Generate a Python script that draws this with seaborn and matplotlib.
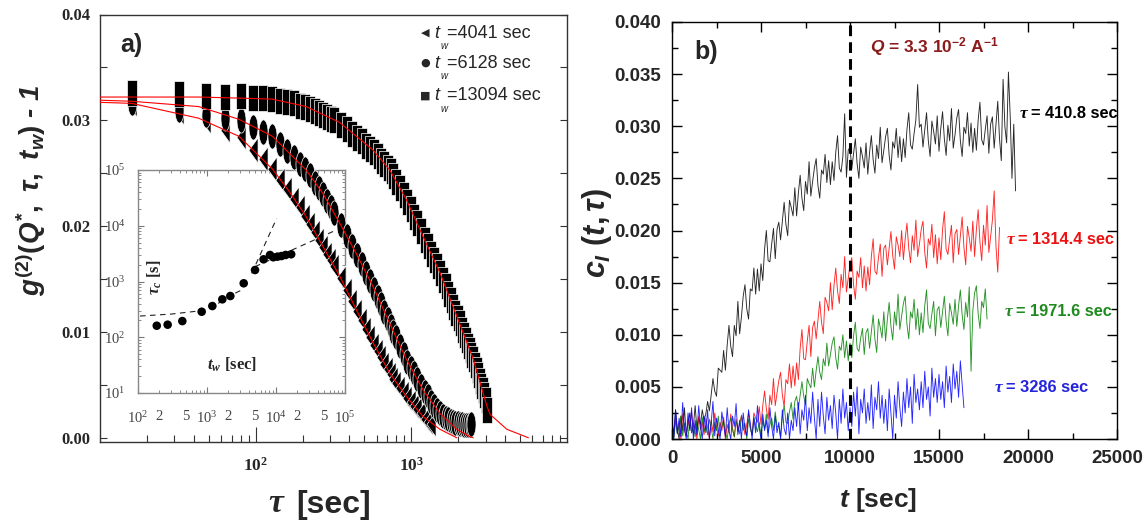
import numpy as np
import pandas as pd
import matplotlib
matplotlib.use('Agg')
from matplotlib import pyplot as plt
from matplotlib.ticker import LogLocator, NullFormatter
import seaborn as sns

# ---------------- panel a) data : g2(Q*, tau, tw) - 1 ----------------
tw_labels = ['4041', '6128', '13094']

lag_times = [16, 32, 48, 64, 80, 96, 112, 128, 144, 160, 176, 192, 208, 224, 240, 256,
             272, 288, 304, 320, 352, 384, 416, 448, 480,
             512, 544, 576, 608, 640, 672, 704, 736, 768, 800, 848, 896, 944, 992, 1040, 1088,
             1152, 1216, 1280, 1344, 1408, 1472, 1536, 1600, 1664, 1728, 1792, 1856, 1920,
             1984, 2048, 2112, 2176, 2240, 2304, 2368, 2432, 2496, 2560, 2624, 2688, 2752,
             2816, 2880, 2944, 3008, 3072]

g2_4041 = [0.0315, 0.0308, 0.0299, 0.0291, 0.0284, 0.0272, 0.0263, 0.0254, 0.0244, 0.0235,
           0.0226, 0.0218, 0.0210, 0.0202, 0.0194, 0.0187, 0.0180, 0.0174, 0.0168, 0.0162,
           0.0151, 0.0140, 0.0129, 0.0120, 0.0111,
           0.0103, 0.0095, 0.0088, 0.0082, 0.0076, 0.0070, 0.0065, 0.0060, 0.0056, 0.0052,
           0.0047, 0.0042, 0.0038, 0.0034, 0.0030, 0.0027,
           0.0023, 0.0018, 0.0015, 0.0013]

g2_6128 = [0.0316, 0.0310, 0.0305, 0.0302, 0.0300, 0.0294, 0.0289, 0.0285, 0.0278, 0.0271,
           0.0265, 0.0259, 0.0254, 0.0248, 0.0241, 0.0236, 0.0230, 0.0224, 0.0218, 0.0212,
           0.0201, 0.0191, 0.0181, 0.0173, 0.0164,
           0.0156, 0.0148, 0.0141, 0.0133, 0.0126, 0.0119, 0.0112, 0.0106, 0.0100, 0.0095,
           0.0087, 0.0079, 0.0072, 0.0066, 0.0061, 0.0056,
           0.0049, 0.0043, 0.0039, 0.0034, 0.0030, 0.0026, 0.0023, 0.0021, 0.0019, 0.0018,
           0.0016, 0.0015, 0.0014, 0.0014, 0.0013, 0.0013, 0.0012, 0.0012, 0.0012, 0.0012,
           0.0013]

g2_13094 = [0.0326, 0.0325, 0.0323, 0.0322, 0.0323, 0.0321, 0.0321, 0.0320, 0.0318, 0.0317,
            0.0316, 0.0314, 0.0313, 0.0311, 0.0309, 0.0307, 0.0305, 0.0303, 0.0301, 0.0300,
            0.0296, 0.0292, 0.0287, 0.0283, 0.0280,
            0.0276, 0.0273, 0.0270, 0.0266, 0.0262, 0.0259, 0.0255, 0.0252, 0.0247, 0.0242,
            0.0236, 0.0229, 0.0223, 0.0216, 0.0209, 0.0203,
            0.0195, 0.0187, 0.0181, 0.0174, 0.0168, 0.0162, 0.0156, 0.0149, 0.0143, 0.0136,
            0.0130, 0.0124, 0.0118, 0.0113, 0.0108, 0.0102, 0.0097, 0.0092, 0.0087, 0.0083,
            0.0078, 0.0074, 0.0069, 0.0064, 0.0059, 0.0054, 0.0049, 0.0045, 0.0040, 0.0036,
            0.0026]

# red fit curves
fit_tau_4041 = [10, 16, 43, 70, 78, 128, 164, 211, 270, 346, 443, 567, 727, 930, 1191, 1527, 1958]
fit_g2_4041 = [0.0317, 0.0316, 0.0302, 0.0288, 0.0285, 0.0254, 0.0233, 0.0209, 0.0181, 0.0153,
               0.0121, 0.0090, 0.0061, 0.0039, 0.0020, 0.0008, 0.0]
fit_tau_6128 = [10, 16, 43, 78, 128, 211, 270, 346, 443, 567, 727, 930, 1191, 1527, 1958, 2380, 2500]
fit_g2_6128 = [0.0319, 0.0318, 0.0313, 0.0301, 0.0285, 0.0253, 0.0231, 0.0203, 0.0174, 0.0143,
               0.0108, 0.0074, 0.0045, 0.0023, 0.0008, 0.0001, 0.0]
fit_tau_13094 = [10, 16, 43, 78, 128, 211, 346, 567, 727, 930, 1191, 1527, 1958, 2506, 3056,
                 3209, 4110, 5650]
fit_g2_13094 = [0.0322, 0.0322, 0.0322, 0.0321, 0.0320, 0.0313, 0.0298, 0.0272, 0.0253, 0.0225,
                0.0190, 0.0156, 0.0115, 0.0074, 0.0030, 0.0022, 0.0008, 0.0]

# inset : tau_c vs t_w
inset_tw = [187, 269, 439, 837, 1195, 1667, 2178, 3404, 4966, 6607, 8180, 9120, 10500, 12000,
            13800, 16600]
inset_tauc = [161, 168, 195, 287, 363, 479, 549, 929, 1607, 2500, 2990, 2720, 2790, 2860,
              2990, 3080]
guide1_tw = [107, 308, 837, 1195, 1667, 2178, 3184]
guide1_tau = [240, 261, 300, 350, 450, 560, 705]
guide2_tw = [4450, 10200]
guide2_tau = [1400, 13500]
guide3_tw = [4970, 85000]
guide3_tau = [1845, 9000]

# ---------------- panel b) data : c_I(t, tau), units of 1e-4, one value per 100 s -------------
t_step = 100
ci_410 = [18, 5, 28, 10, 0, 22, 8, 30, 3, 15, 25, 6, 12, 32, 9, 20, 14, 28, 18, 24,
          36, 27, 42, 58, 46, 41, 68, 66, 64, 85,
          66, 90, 109, 89, 79, 109, 99, 132, 101, 117,
          137, 148, 125, 115, 144, 142, 164, 139, 163, 142,
          168, 152, 182, 200, 171, 170, 187, 202, 173, 201,
          208, 191, 209, 227, 206, 195, 229, 222, 214, 241,
          214, 236, 253, 231, 219, 247, 235, 266, 233, 247,
          260, 269, 243, 231, 258, 254, 273, 246, 267, 244,
          266, 248, 275, 291, 260, 256, 271, 312, 251, 277,
          280, 259, 274, 288, 264, 250, 280, 271, 260, 284,
          254, 275, 291, 268, 255, 282, 269, 299, 265, 277,
          290, 298, 272, 258, 285, 279, 298, 270, 290, 266,
          288, 270, 297, 313, 282, 278, 293, 306, 340, 299,
          302, 280, 296, 313, 286, 271, 305, 295, 283, 310,
          276, 298, 314, 288, 272, 301, 286, 317, 279, 292,
          308, 316, 286, 271, 299, 293, 313, 281, 303, 275,
          298, 277, 306, 323, 287, 282, 297, 310, 274, 302,
          309, 279, 302, 324, 288, 267, 345, 300, 284, 352,
          310, 250, 302, 238]

ci_1314 = [12, 2, 20, 6, 15, 0, 24, 8, 3, 18, 10, 26, 5, 14, 0, 22, 9, 16, 4, 20,
           11, 0, 18, 7, 25, 12, 3, 16, 8, 21, 0, 14, 6, 24, 10, 2, 19, 7, 15, 22,
           15, 4, 14, 25, 11, 4, 25, 20, 16, 31,
           14, 32, 46, 29, 19, 42, 33, 58, 32, 44,
           56, 64, 42, 31, 57, 53, 72, 49, 70, 51,
           73, 57, 87, 105, 77, 76, 94, 109, 79, 107,
           113, 96, 114, 132, 112, 101, 136, 131, 123, 150,
           124, 147, 164, 142, 130, 158, 145, 175, 141, 154,
           167, 174, 148, 134, 161, 155, 174, 145, 166, 142,
           165, 148, 175, 192, 161, 158, 174, 187, 156, 183,
           186, 167, 183, 199, 176, 163, 194, 186, 175, 200,
           172, 192, 207, 183, 169, 195, 181, 210, 175, 187,
           201, 209, 179, 164, 192, 186, 206, 174, 196, 168,
           193, 172, 201, 218, 182, 177, 192, 205, 169, 197,
           201, 177, 195, 213, 184, 167, 204, 193, 180, 209,
           175, 201, 220, 189, 171, 205, 186, 224, 179, 194,
           210, 238, 185, 160, 203]

ci_1972 = [10, 0, 18, 5, 12, 22, 3, 15, 8, 0, 20, 6, 14, 2, 17, 9, 0, 21, 7, 13,
           4, 19, 11, 0, 16, 8, 22, 3, 12, 18, 6, 0, 14, 20, 9, 2, 17, 11, 5, 23,
           8, 15, 0, 19, 10, 4, 21, 13, 7, 16, 2, 18, 10, 24, 6, 14, 20, 8, 26, 12,
           12, 2, 21, 32, 16, 15, 26, 35, 19, 36,
           41, 29, 42, 55, 41, 33, 58, 53, 49, 68,
           50, 66, 79, 64, 57, 77, 70, 92, 70, 81,
           92, 98, 78, 67, 89, 85, 100, 78, 94, 75,
           92, 78, 99, 112, 87, 84, 97, 106, 81, 102,
           106, 87, 103, 119, 96, 83, 115, 107, 97, 122,
           94, 115, 131, 108, 95, 122, 109, 139, 105, 118,
           130, 137, 110, 96, 122, 116, 134, 105, 125, 100,
           121, 102, 128, 143, 111, 106, 120, 132, 99, 124,
           127, 107, 122, 137, 113, 99, 130, 121, 110, 134,
           108, 128, 143, 119, 105, 131, 117, 146, 65, 123,
           140, 147, 120, 106, 132, 126, 144, 115]

ci_3286 = [15, 0, 28, 5, 20, 2, 35, 10, 0, 25, 8, 30, 0, 18, 4, 32, 12, 0, 22, 6,
           28, 0, 15, 36, 3, 20, 9, 0, 26, 14, 2, 30, 8, 0, 22, 12, 34, 4, 18, 0,
           25, 10, 3, 28, 15, 0, 20, 6, 32, 11, 0, 24, 8, 18, 2, 30, 12, 0, 22, 6,
           16, 0, 28, 10, 4, 25, 0, 18, 8, 30,
           12, 35, 5, 28, 18, 42, 8, 30, 15, 45,
           20, 0, 38, 12, 45, 22, 5, 40, 18, 32,
           10, 42, 25, 0, 38, 15, 48, 20, 35, 8,
           30, 12, 45, 22, 50, 5, 38, 25, 48, 15,
           35, 18, 52, 10, 40, 28, 55, 20, 42, 15,
           38, 8, 48, 25, 0, 42, 20, 55, 30, 12,
           45, 25, 58, 30, 50, 15, 62, 35, 48, 28,
           55, 30, 65, 38, 50, 22, 68, 40, 58, 35,
           62, 38, 55, 30, 70, 45, 60, 35, 72, 48,
           65, 40, 75, 52, 30]

tau_names = ['410.8', '1314.4', '1971.6', '3286']
line_colors = ['#000000', '#ff0000', '#008000', '#0000ff']
text_colors = ['#000000', '#ee1111', '#1f8a1f', '#2424dd']

# ---------------- style ----------------
sns.set_style('ticks')
plt.rcParams['font.family'] = ['Liberation Sans', 'DejaVu Sans']
plt.rcParams['mathtext.fontset'] = 'custom'
plt.rcParams['mathtext.rm'] = 'Liberation Sans:bold'
plt.rcParams['mathtext.it'] = 'Liberation Sans:italic:bold'
plt.rcParams['mathtext.bf'] = 'Liberation Sans:bold'
plt.rcParams['mathtext.sf'] = 'Liberation Serif:italic:bold'

W, H = 1148, 521


def fx(x):
    return x / W


def fy(y):
    return 1 - y / H


fig = plt.figure(figsize=(W / 100, H / 100), dpi=100)
ax = fig.add_axes([fx(100), fy(442), (567 - 100) / W, (442 - 14.5) / H])
ax_in = fig.add_axes([fx(138), fy(393), (345 - 138) / W, (393 - 170) / H])
ax2 = fig.add_axes([fx(672), fy(439), (1117 - 672) / W, (439 - 22) / H])
ax.set_zorder(2)
ax_in.set_zorder(1)
ax.patch.set_alpha(0)

# ---------------- panel a) ----------------
ax.set_xscale('log')
w = 0.36
tri_m = [(w, 1), (w, -1), (-w, 0), (w, 1)]
sq_m = [(-w, -1), (w, -1), (w, 1), (-w, 1), (-w, -1)]
ang = np.linspace(0, 2 * np.pi, 41)
circ_m = list(zip(w * np.cos(ang), np.sin(ang)))

for vals, mk, z in [(g2_4041, tri_m, 2), (g2_6128, circ_m, 3), (g2_13094, sq_m, 4)]:
    sns.scatterplot(x=lag_times[:len(vals)], y=vals, ax=ax, marker=mk, s=330, color='black',
                    edgecolor='white', linewidth=0.5, zorder=z)

for ft, fg in [(fit_tau_4041, fit_g2_4041), (fit_tau_6128, fit_g2_6128),
               (fit_tau_13094, fit_g2_13094)]:
    sns.lineplot(x=ft, y=fg, ax=ax, color='red', lw=0.8, estimator=None, sort=False, zorder=6)

ax.set_xlim(10, 1e4)
ax.set_ylim(-0.0004, 0.04)
ax.set_xticks([100, 1000], labels=[r'$\mathdefault{10^{2}}$', r'$\mathdefault{10^{3}}$'],
              fontfamily='Liberation Serif', fontweight='bold', fontsize=12.5)
ax.xaxis.set_minor_locator(LogLocator(base=10, subs=np.arange(2, 10)))
ax.xaxis.set_minor_formatter(NullFormatter())
ax.set_yticks([0, 0.01, 0.02, 0.03, 0.04], labels=['0.00', '0.01', '0.02', '0.03', '0.04'],
              fontfamily='Liberation Serif', fontweight='bold', fontsize=12)
ax.set_yticks([0.005, 0.015, 0.025, 0.035], minor=True)
ax.tick_params(axis='y', which='both', direction='in', left=True, right=True, length=5,
               width=0.8, pad=7, color='#333333')
ax.tick_params(axis='x', which='major', direction='in', bottom=True, top=False, length=11,
               width=0.8, pad=11, color='#333333')
ax.tick_params(axis='x', which='minor', direction='in', bottom=True, top=False, length=5,
               width=0.8, color='#333333')
for sp in ax.spines.values():
    sp.set_color('#333333')
    sp.set_linewidth(1.0)
ax.set_xlabel('')
ax.set_ylabel('')

# inset
ax_in.set_xscale('log')
ax_in.set_yscale('log')
sns.scatterplot(x=inset_tw, y=inset_tauc, ax=ax_in, color='black', s=38, edgecolor='none',
                zorder=3)
for gx, gy in [(guide1_tw, guide1_tau), (guide2_tw, guide2_tau), (guide3_tw, guide3_tau)]:
    ax_in.plot(gx, gy, color='#222222', lw=0.8, ls=(0, (5, 4)), zorder=2)
ax_in.set_xlim(100, 1e5)
ax_in.set_ylim(10, 1e5)
ax_in.set_xticks([1e2, 1e3, 1e4, 1e5])
minor_pos = [k * 10 ** e for e in (2, 3, 4) for k in range(2, 10)]
minor_lab = [str(k) if k in (2, 5) else '' for e in (2, 3, 4) for k in range(2, 10)]
ax_in.set_xticks(minor_pos, labels=minor_lab, minor=True)
ax_in.set_yticks([1e1, 1e2, 1e3, 1e4, 1e5])
ax_in.yaxis.set_minor_locator(LogLocator(base=10, subs=np.arange(2, 10)))
ax_in.yaxis.set_minor_formatter(NullFormatter())
ax_in.tick_params(which='both', direction='in', top=True, right=True, color='#777777',
                  labelcolor='#444444', labelsize=10.5, labelfontfamily='Liberation Serif')
ax_in.tick_params(which='major', length=4)
ax_in.tick_params(which='minor', length=2)
ax_in.tick_params(axis='x', which='both', pad=12)
ax_in.tick_params(axis='y', which='both', pad=9)
for sp in ax_in.spines.values():
    sp.set_color('#888888')
    sp.set_linewidth(1.0)

# ---------------- panel b) ----------------
frames = []
for name, vals in zip(tau_names, [ci_410, ci_1314, ci_1972, ci_3286]):
    frames.append(pd.DataFrame({'t': np.arange(len(vals)) * t_step,
                                'ci': np.array(vals) * 1e-4, 'tau': name}))
df = pd.concat(frames, ignore_index=True)
sns.lineplot(data=df, x='t', y='ci', hue='tau', hue_order=tau_names, palette=line_colors,
             estimator=None, sort=False, lw=0.65, alpha=0.85, legend=False, ax=ax2)
ax2.axvline(10000, color='black', lw=2.2, ls=(0, (3.5, 2)), zorder=5)
ax2.set_xlim(0, 25000)
ax2.set_ylim(0, 0.04)
ax2.set_xticks(np.arange(0, 25001, 5000))
ax2.set_xticks(np.arange(2500, 25000, 5000), minor=True)
yt = np.arange(0, 0.0401, 0.005)
ax2.set_yticks(yt, labels=['%.3f' % v for v in yt])
ax2.set_yticks(np.arange(0.0025, 0.04, 0.005), minor=True)
ax2.tick_params(which='both', direction='in', top=True, right=True, width=1.0, color='black')
ax2.tick_params(which='major', length=7, pad=8, labelsize=13.5)
ax2.tick_params(which='minor', length=4)
for lab in ax2.get_xticklabels() + ax2.get_yticklabels():
    lab.set_fontweight('bold')
for sp in ax2.spines.values():
    sp.set_color('black')
    sp.set_linewidth(1.0)
ax2.set_xlabel('')
ax2.set_ylabel('')

# ---------------- texts ----------------
fig.text(fx(31), fy(190), r'$g^{(2)}(Q^{*},\ \tau,\ t_{w})$ - 1', rotation=90, fontsize=20,
         fontweight='bold', fontstyle='italic', ha='center', va='center')
fig.text(fx(277), fy(503), r'$\mathsf{\tau}$', fontsize=24, ha='center', va='center')
fig.text(fx(296), fy(505), '[sec]', fontsize=23, fontweight='bold', ha='left', va='center')
fig.text(fx(131), fy(45), 'a)', fontsize=18, fontweight='bold', ha='center', va='center')

leg_y = [33, 63, 96]
leg_glyph = ['\u25C0', '\u25CF', '\u25A0']
for yy, gl, lab in zip(leg_y, leg_glyph, tw_labels):
    fig.text(fx(425), fy(yy), gl, fontsize=8, family='DejaVu Sans', ha='center', va='center')
    fig.text(fx(434), fy(yy), 't', fontsize=13, fontstyle='italic', ha='left', va='center')
    fig.text(fx(441), fy(yy + 13), 'w', fontsize=7, fontstyle='italic', ha='left', va='center')
    fig.text(fx(447), fy(yy), '=%s sec' % lab, fontsize=13, ha='left', va='center')

fig.text(fx(597), fy(233), r'$c_{I}\ (t,\tau)$', rotation=90, fontsize=22, ha='center',
         va='center')
fig.text(fx(878), fy(500), r'$t$ [sec]', fontsize=19, fontweight='bold', ha='center',
         va='center')
fig.text(fx(706), fy(52), 'b)', fontsize=18, fontweight='bold', ha='center', va='center')
fig.text(fx(870), fy(47), r'$Q$ = 3.3 10$^{-2}$ A$^{-1}$', color='#8b1a1a', fontsize=12.5,
         fontweight='bold', ha='left', va='center')

tau_text_pos = [(1031, 113), (1018, 240), (1016, 312), (1006, 387)]
for name, col, (xx, yy) in zip(tau_names, text_colors, tau_text_pos):
    fig.text(fx(xx - 2), fy(yy), r'$\mathsf{\tau}$', color=col, fontsize=12.5, ha='right',
             va='center')
    fig.text(fx(xx), fy(yy), '= %s sec' % name, color=col, fontsize=11.8, fontweight='bold',
             ha='left', va='center')

fig.text(fx(155), fy(277), r'$\mathsf{\tau_{c}}$ [s]', rotation=90, fontsize=12,
         fontfamily='Liberation Serif', fontweight='bold', ha='center', va='center')
fig.text(fx(232), fy(365), r'$\mathsf{t_{w}}$ [sec]', fontsize=12,
         fontfamily='Liberation Serif', fontweight='bold', ha='center', va='center')

fig.savefig('out.png', dpi=100, facecolor='white')
